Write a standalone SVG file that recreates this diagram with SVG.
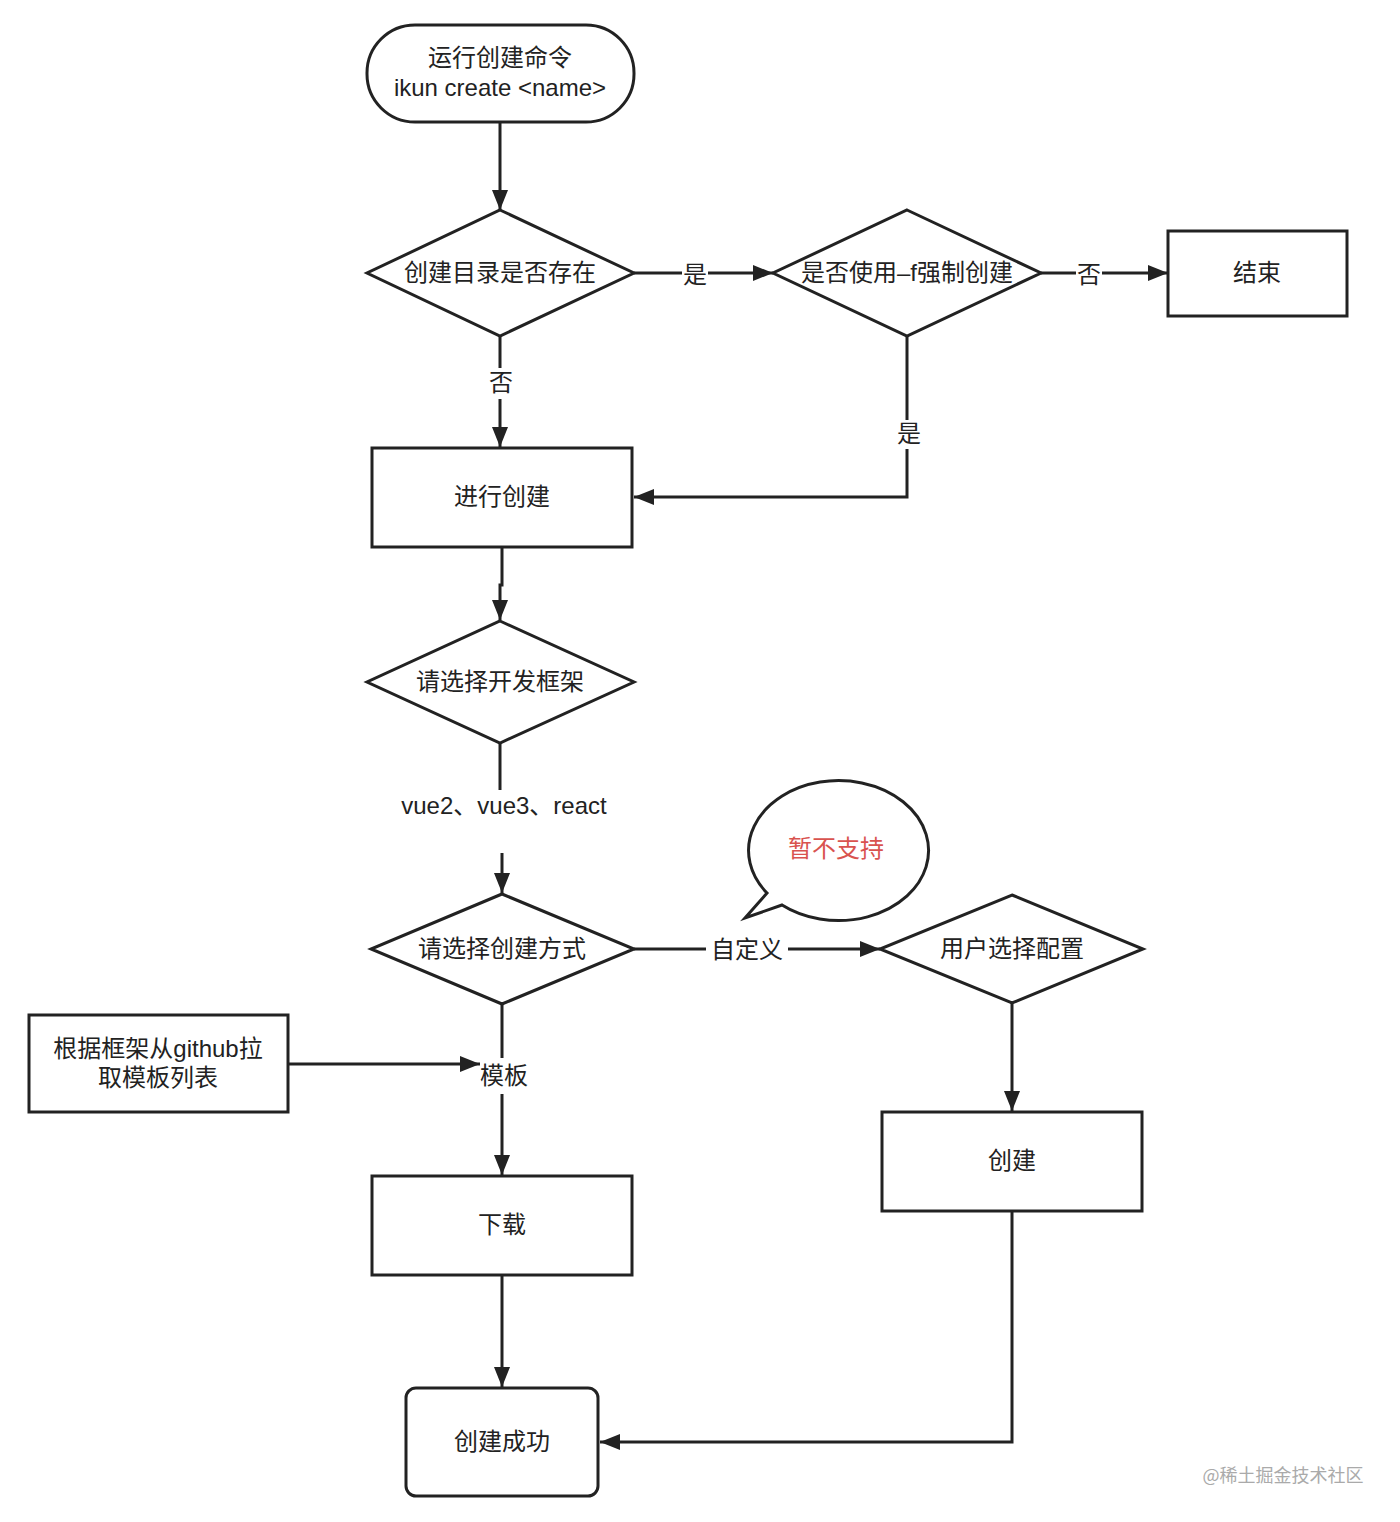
<svg xmlns="http://www.w3.org/2000/svg" width="1400" height="1522" viewBox="0 0 1400 1522">
<style>
.s{fill:#fff;stroke:#222;stroke-width:3}
.c{fill:none;stroke:#222;stroke-width:3}
.t{font-family:"Liberation Sans","Noto Sans CJK SC",sans-serif;font-size:24px;fill:#222;text-anchor:middle;dominant-baseline:central}
.l{font-family:"Liberation Sans","Noto Sans CJK SC",sans-serif;font-size:24px;fill:#222;text-anchor:middle;dominant-baseline:central}
</style>
<defs>
<marker id="a" viewBox="0 0 20 16" refX="20" refY="8" markerWidth="20" markerHeight="16" markerUnits="userSpaceOnUse" orient="auto">
<path d="M0,0 L20,8 L0,16 Z" fill="#222"/>
</marker>
</defs>
<rect width="1400" height="1522" fill="#fff"/>
<g id="connectors">
<path class="c" d="M500,122 V210" marker-end="url(#a)"/>
<path class="c" d="M634,273 H682 M708,273 H773" marker-end="url(#a)"/>
<path class="c" d="M1041,273 H1076 M1102,273 H1168" marker-end="url(#a)"/>
<path class="c" d="M500,336 V368 M500,399 V447" marker-end="url(#a)"/>
<path class="c" d="M907,336 V420 M907,449 V497 H634" marker-end="url(#a)"/>
<path class="c" d="M502,547 V585 H500 V620" marker-end="url(#a)"/>
<path class="c" d="M500,743 V790"/>
<path class="c" d="M502,853 V893" marker-end="url(#a)"/>
<path class="c" d="M634,949 H706 M788,949 H880" marker-end="url(#a)"/>
<path class="c" d="M502,1004 V1058 M502,1094 V1175" marker-end="url(#a)"/>
<path class="c" d="M288,1064 H480" marker-end="url(#a)"/>
<path class="c" d="M1012,1003 V1111" marker-end="url(#a)"/>
<path class="c" d="M502,1275 V1387" marker-end="url(#a)"/>
<path class="c" d="M1012,1211 V1442 H600" marker-end="url(#a)"/>
<text class="l" x="695" y="274">是</text>
<text class="l" x="1089" y="274">否</text>
<text class="l" x="501" y="382">否</text>
<text class="l" x="909" y="433">是</text>
<text class="l" x="504" y="805">vue2、vue3、react</text>
<text class="l" x="747" y="949">自定义</text>
<text class="l" x="504" y="1075">模板</text>
</g>
<g id="start">
<rect class="s" x="367" y="25" width="267" height="97" rx="48"/>
<text class="t" x="500" y="57">运行创建命令</text>
<text class="t" x="500" y="87">ikun create &lt;name&gt;</text>
</g>
<g id="d1">
<polygon class="s" points="500,210 634,273 500,336 367,273"/>
<text class="t" x="500" y="272">创建目录是否存在</text>
</g>
<g id="d2">
<polygon class="s" points="907,210 1041,273 907,336 773,273"/>
<text class="t" x="907" y="272">是否使用–f强制创建</text>
</g>
<g id="end">
<rect class="s" x="1168" y="231" width="179" height="85"/>
<text class="t" x="1257" y="272">结束</text>
</g>
<g id="create">
<rect class="s" x="372" y="448" width="260" height="99"/>
<text class="t" x="502" y="496">进行创建</text>
</g>
<g id="d3">
<polygon class="s" points="500,621 634,682 500,743 367,682"/>
<text class="t" x="500" y="681">请选择开发框架</text>
</g>
<g id="d4">
<polygon class="s" points="502,894 634,949 502,1004 371,949"/>
<text class="t" x="502" y="948">请选择创建方式</text>
</g>
<g id="d5">
<polygon class="s" points="1012,895 1143,949 1012,1003 880,949"/>
<text class="t" x="1012" y="948">用户选择配置</text>
</g>
<g id="bubble">
<path class="s" d="M767,893 A90,70 0 1,1 782,905 L745,918 Z"/>
<text class="t" x="836" y="848" style="fill:#d9534f">暂不支持</text>
</g>
<g id="fetch">
<rect class="s" x="29" y="1015" width="259" height="97"/>
<text class="t" x="158" y="1048">根据框架从github拉</text>
<text class="t" x="158" y="1077">取模板列表</text>
</g>
<g id="download">
<rect class="s" x="372" y="1176" width="260" height="99"/>
<text class="t" x="502" y="1224">下载</text>
</g>
<g id="custom">
<rect class="s" x="882" y="1112" width="260" height="99"/>
<text class="t" x="1012" y="1160">创建</text>
</g>
<g id="success">
<rect class="s" x="406" y="1388" width="192" height="108" rx="10"/>
<text class="t" x="502" y="1441">创建成功</text>
</g>
<text x="1283" y="1474" style="font-family:'Noto Sans CJK SC',sans-serif;font-size:18px;fill:#aaa;text-anchor:middle;dominant-baseline:central">@稀土掘金技术社区</text>
</svg>
